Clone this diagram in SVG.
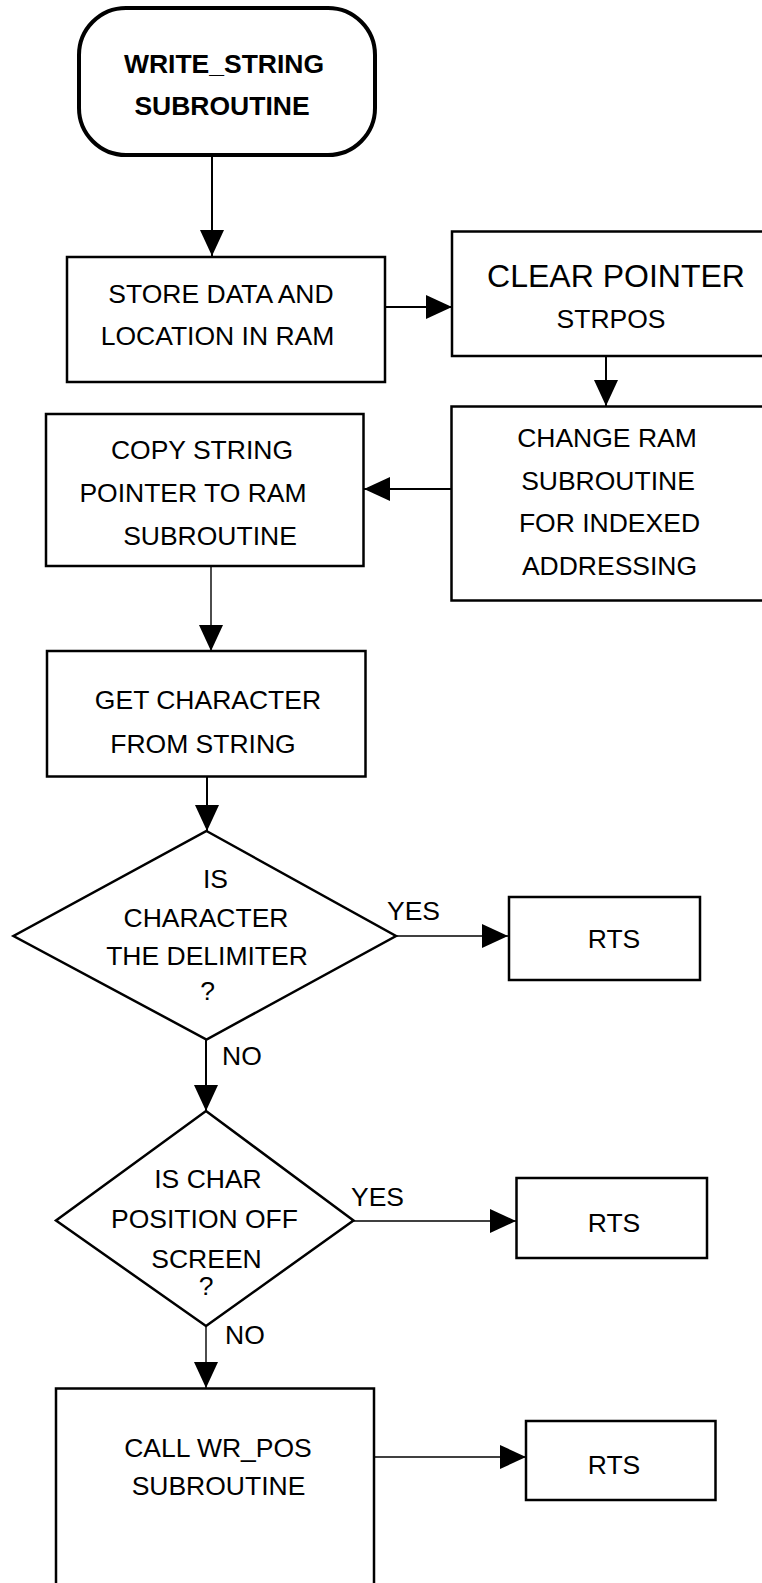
<svg xmlns="http://www.w3.org/2000/svg" width="762" height="1583" viewBox="0 0 762 1583">
<style>
.box{fill:#fff;stroke:#000;stroke-width:2.5}
.term{fill:#fff;stroke:#000;stroke-width:4}
.t{font-family:"Liberation Sans",Arial,sans-serif;font-size:26.5px;fill:#000;text-anchor:middle}
.b{font-weight:bold}
.s{text-anchor:start}
.big{font-size:32px}
.c{fill:none;stroke:#000;stroke-width:2}
.thin{stroke-width:1.4}
</style>
<defs>
<marker id="ah" markerUnits="userSpaceOnUse" markerWidth="26" markerHeight="24" refX="26" refY="12" orient="auto" viewBox="0 0 26 24">
<path d="M0,0 L26,12 L0,24 Z" fill="#000"/>
</marker>
</defs>
<rect width="762" height="1583" fill="#fff"/>
<g id="connectors">
<line class="c" x1="212" y1="157" x2="212" y2="256" marker-end="url(#ah)"/>
<line class="c" x1="385" y1="307" x2="452" y2="307" stroke-width="2.5" marker-end="url(#ah)"/>
<line class="c" x1="606" y1="356" x2="606" y2="406" marker-end="url(#ah)"/>
<line class="c" x1="451" y1="489" x2="364" y2="489" marker-end="url(#ah)"/>
<line class="c thin" x1="211" y1="566" x2="211" y2="651" marker-end="url(#ah)"/>
<line class="c" x1="207" y1="777" x2="207" y2="831" marker-end="url(#ah)"/>
<line class="c thin" x1="396" y1="936" x2="508" y2="936" marker-end="url(#ah)"/>
<line class="c" x1="206" y1="1040" x2="206" y2="1111" marker-end="url(#ah)"/>
<line class="c thin" x1="353" y1="1221" x2="516" y2="1221" marker-end="url(#ah)"/>
<line class="c thin" x1="206" y1="1326" x2="206" y2="1388" marker-end="url(#ah)"/>
<line class="c thin" x1="374" y1="1457" x2="526" y2="1457" marker-end="url(#ah)"/>
<text class="t s" x="387" y="920">YES</text>
<text class="t s" x="222" y="1065">NO</text>
<text class="t s" x="351" y="1206">YES</text>
<text class="t s" x="225" y="1344">NO</text>
</g>
<g id="start">
<rect class="term" x="79" y="8" width="296" height="147" rx="47" ry="47"/>
<text class="t b" x="224" y="73">WRITE_STRING</text>
<text class="t b" x="222" y="115">SUBROUTINE</text>
</g>
<g id="store">
<rect class="box" x="67" y="257" width="318" height="125"/>
<text class="t" x="221" y="303">STORE DATA AND</text>
<text class="t" x="217.5" y="345">LOCATION IN RAM</text>
</g>
<g id="clear">
<rect class="box" x="452" y="231.5" width="330" height="124.5"/>
<text class="t big" x="616" y="287">CLEAR POINTER</text>
<text class="t" x="611" y="328">STRPOS</text>
</g>
<g id="change">
<rect class="box" x="451.5" y="406.5" width="330" height="194"/>
<text class="t" x="607" y="447">CHANGE RAM</text>
<text class="t" x="608" y="490">SUBROUTINE</text>
<text class="t" x="609.5" y="532">FOR INDEXED</text>
<text class="t" x="609.5" y="575">ADDRESSING</text>
</g>
<g id="copy">
<rect class="box" x="46" y="414" width="317.5" height="152"/>
<text class="t" x="202" y="459">COPY STRING</text>
<text class="t" x="193" y="502">POINTER TO RAM</text>
<text class="t" x="210" y="545">SUBROUTINE</text>
</g>
<g id="get">
<rect class="box" x="47" y="651" width="318.5" height="125.5"/>
<text class="t" x="208" y="709">GET CHARACTER</text>
<text class="t" x="203" y="753">FROM STRING</text>
</g>
<g id="decision1">
<polygon class="box" points="206.5,831 396,936 206.5,1039.5 13.5,936"/>
<text class="t" x="215.5" y="888">IS</text>
<text class="t" x="206" y="927">CHARACTER</text>
<text class="t" x="207" y="965">THE DELIMITER</text>
<text class="t" x="207.5" y="1000">?</text>
</g>
<g id="rts1">
<rect class="box" x="509" y="897" width="191" height="83"/>
<text class="t" x="614" y="948">RTS</text>
</g>
<g id="decision2">
<polygon class="box" points="206,1111 353.5,1220.5 206,1326 56,1220.5"/>
<text class="t" x="208" y="1188">IS CHAR</text>
<text class="t" x="204.5" y="1228">POSITION OFF</text>
<text class="t" x="206.5" y="1268">SCREEN</text>
<text class="t" x="206" y="1295">?</text>
</g>
<g id="rts2">
<rect class="box" x="516.5" y="1178" width="190.5" height="80"/>
<text class="t" x="614" y="1232">RTS</text>
</g>
<g id="call">
<rect class="box" x="56" y="1388.5" width="318" height="250"/>
<text class="t" x="218" y="1457">CALL WR_POS</text>
<text class="t" x="218.5" y="1495">SUBROUTINE</text>
</g>
<g id="rts3">
<rect class="box" x="526" y="1421" width="189.5" height="79"/>
<text class="t" x="614" y="1474">RTS</text>
</g>
</svg>
